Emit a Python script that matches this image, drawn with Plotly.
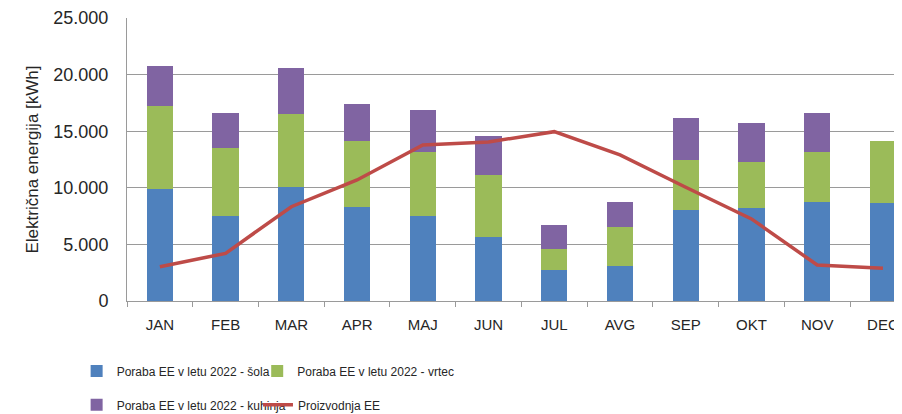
import plotly.graph_objects as go

months = ['JAN', 'FEB', 'MAR', 'APR', 'MAJ', 'JUN', 'JUL', 'AVG', 'SEP', 'OKT', 'NOV', 'DEC']
sola = [9900, 7500, 10050, 8300, 7500, 5650, 2750, 3100, 8000, 8200, 8770, 8700]
vrtec = [7350, 6050, 6450, 5800, 5700, 5500, 1870, 3450, 4430, 4050, 4420, 5400]
kuhinja = [3480, 3050, 4100, 3330, 3650, 3400, 2100, 2230, 3740, 3470, 3390, 0]
proizvodnja = [3030, 4210, 8330, 10690, 13780, 14050, 14960, 12900, 10050, 7250, 3180, 2900]

FONT = 'Liberation Sans, Arial, sans-serif'
GRID = '#9a9a9a'
TXT = '#262626'

fig = go.Figure()

fig.add_trace(go.Bar(x=months, y=sola, name='Poraba EE v letu 2022 - šola',
                     marker=dict(color='#4F81BD', line=dict(width=0)), legend='legend'))
fig.add_trace(go.Bar(x=months, y=vrtec, name='Poraba EE v letu 2022 - vrtec',
                     marker=dict(color='#9BBB59', line=dict(width=0)), legend='legend2'))
fig.add_trace(go.Bar(x=months, y=kuhinja, name='Poraba EE v letu 2022 - kuhinja',
                     marker=dict(color='#8064A2', line=dict(width=0)), legend='legend3'))
fig.add_trace(go.Scatter(x=months, y=proizvodnja, name='Proizvodnja EE', mode='lines',
                         line=dict(color='#BE4B48', width=3.5), legend='legend4'))


def leg(x, y):
    return dict(orientation='h', xanchor='left', yanchor='middle', x=x, y=y,
                font=dict(family=FONT, size=12, color=TXT),
                bgcolor='rgba(0,0,0,0)', itemclick=False)


# the page body adds an 8px offset, so margins are trimmed to keep the plot in place;
# the figure is a bit taller than the window so the legends do not push the margins
fig.update_layout(
    barmode='stack',
    bargap=0.6,
    width=902,
    height=440,
    margin=dict(l=119, r=8, t=10, b=147),
    plot_bgcolor='white',
    paper_bgcolor='white',
    font=dict(family=FONT, size=16, color=TXT),
    showlegend=True,
    legend=leg(-0.065, -0.247),
    legend2=leg(0.168, -0.247),
    legend3=leg(-0.065, -0.367),
    legend4=leg(0.169, -0.367),
    xaxis=dict(
        range=[-0.5, 11.29], automargin=False,
        showline=True, linecolor=GRID, linewidth=1,
        ticks='outside', tickson='boundaries', ticklen=5, tickcolor=GRID,
        showgrid=False, tickfont=dict(size=15), ticklabelstandoff=10,
    ),
    yaxis=dict(
        range=[0, 25000], dtick=5000, automargin=False,
        showline=True, linecolor=GRID, linewidth=1,
        showgrid=True, gridcolor=GRID, gridwidth=1,
        tickformat=',.0f', ticks='', tickfont=dict(size=18), ticklabelstandoff=14,
        title=dict(text='Električna energija [kWh]', font=dict(size=17), standoff=10),
        zeroline=False,
    ),
    separators=',.',
)

fig.write_html('out.html')
